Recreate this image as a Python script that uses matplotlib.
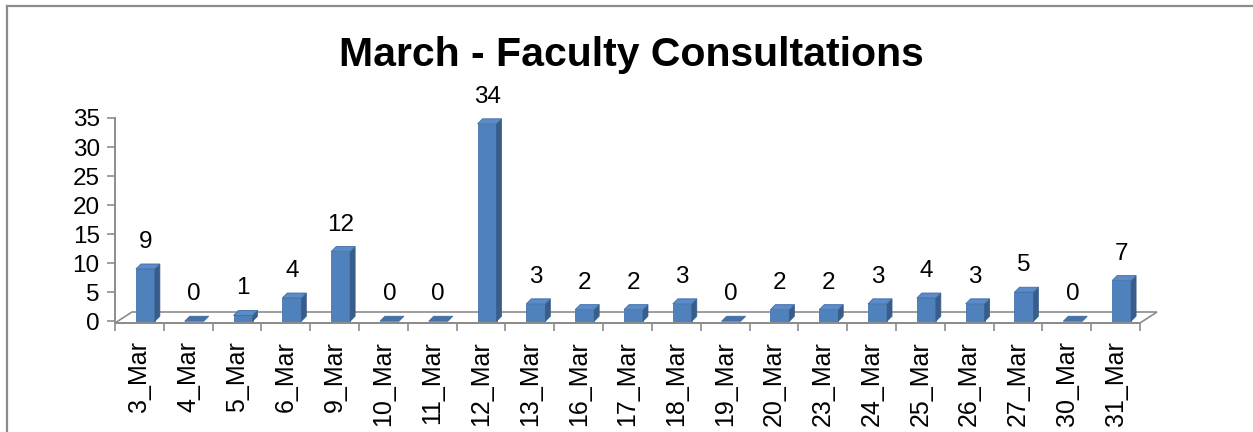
import matplotlib
matplotlib.use("Agg")
import matplotlib.pyplot as plt
from matplotlib.patches import Polygon
from matplotlib.lines import Line2D

categories = ["3_Mar", "4_Mar", "5_Mar", "6_Mar", "9_Mar", "10_Mar", "11_Mar",
              "12_Mar", "13_Mar", "16_Mar", "17_Mar", "18_Mar", "19_Mar", "20_Mar",
              "23_Mar", "24_Mar", "25_Mar", "26_Mar", "27_Mar", "30_Mar", "31_Mar"]
values = [9, 0, 1, 4, 12, 0, 0, 34, 3, 2, 2, 3, 0, 2, 2, 3, 4, 3, 5, 0, 7]
y_ticks = [0, 5, 10, 15, 20, 25, 30, 35]
title = "March - Faculty Consultations"

plt.rcParams['font.family'] = ['Liberation Sans', 'DejaVu Sans']

W, H = 1253, 432
fig = plt.figure(figsize=(W / 100, H / 100), dpi=100)
fig.patch.set_facecolor("white")

# chart-area border (top and left visible)
border_c = "#8c8c8c"
fig.add_artist(Line2D([7 / W, 7 / W], [0, 1 - 6 / H], color=border_c, lw=1.6, transform=fig.transFigure))
fig.add_artist(Line2D([7 / W, 1], [1 - 6 / H, 1 - 6 / H], color=border_c, lw=1.6, transform=fig.transFigure))

left_px, right_px = 115, 1140
top_px, bot_px = 118, 323
ax = fig.add_axes([left_px / W, (H - bot_px) / H, (right_px - left_px) / W, (bot_px - top_px) / H])
n = len(categories)
ax.set_xlim(-0.5, n - 0.5)
ax.set_ylim(-0.3, 35)

ux = (right_px - left_px) / n          # px per category
uy = (bot_px - top_px) / 35.3          # px per value unit

axis_c = "#8c8c8c"
# floor (3D base)
fdx, fdy = 17 / ux, 11 / uy
floor = Polygon([(-0.5, -0.3), (n - 0.5, -0.3), (n - 0.5 + fdx, -0.3 + fdy), (-0.5 + fdx, -0.3 + fdy)],
                closed=True, facecolor="white", edgecolor=axis_c, lw=1.2, clip_on=False, zorder=1)
ax.add_patch(floor)

front_c = "#4F81BD"
side_c = "#385D8A"
top_c = "#5B8BC8"
bw = 19 / ux
shift = 6 / ux
ddx, ddy = 5 / ux, 5 / uy
base = 0.0
for i, v in enumerate(values):
    x0 = i + shift - bw / 2
    x1 = x0 + bw
    y1 = base + v
    if v > 0:
        ax.add_patch(Polygon([(x0, base), (x1, base), (x1, y1), (x0, y1)], closed=True,
                             facecolor=front_c, edgecolor="#4575AE", lw=0.6, clip_on=False, zorder=3))
        ax.add_patch(Polygon([(x1, base), (x1 + ddx, base + ddy), (x1 + ddx, y1 + ddy), (x1, y1)], closed=True,
                             facecolor=side_c, edgecolor=side_c, lw=0.5, clip_on=False, zorder=3))
    ax.add_patch(Polygon([(x0, y1), (x1, y1), (x1 + ddx, y1 + ddy), (x0 + ddx, y1 + ddy)], closed=True,
                         facecolor=top_c if v > 0 else "#4472AA", edgecolor="#3F6DA5", lw=0.6,
                         clip_on=False, zorder=3))
    ax.annotate(str(v), xy=(i + shift, y1), xytext=(0, 27), textcoords="offset pixels",
                ha="center", va="center", fontsize=17.5, color="black", annotation_clip=False)

# axes styling
for s in ["top", "right"]:
    ax.spines[s].set_visible(False)
ax.spines["left"].set_color(axis_c)
ax.spines["bottom"].set_color(axis_c)
ax.spines["left"].set_linewidth(1.4)
ax.spines["bottom"].set_linewidth(1.4)
ax.set_facecolor("none")

ax.set_yticks(y_ticks)
ax.set_yticklabels([str(t) for t in y_ticks], fontsize=17.5)
ax.tick_params(axis="y", direction="out", length=6, width=1.2, color=axis_c, pad=5)

ax.set_xticks(range(n))
ax.set_xticklabels(categories, rotation=90, fontsize=18, va="top", ha="center")
ax.tick_params(axis="x", which="major", length=0, pad=13)
ax.set_xticks([i - 0.5 for i in range(n + 1)], minor=True)
ax.tick_params(axis="x", which="minor", direction="out", length=6, width=1.2, color=axis_c)

fig.text(631 / W, 1 - 55 / H, title, ha="center", va="center", fontsize=29.5, fontweight="bold")

fig.savefig("out.png", dpi=100)
